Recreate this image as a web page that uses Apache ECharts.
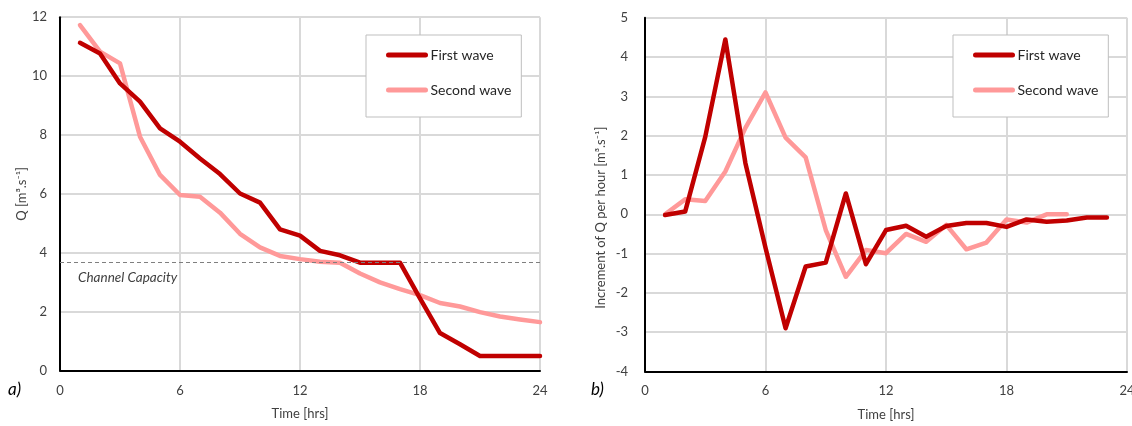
<!DOCTYPE html>
<html>
<head>
<meta charset="utf-8">
<script src="https://cdn.jsdelivr.net/npm/echarts@6/dist/echarts.min.js"></script>
<style>
  html, body { margin: 0; padding: 0; background: #fff; }
  #chart { width: 1132px; height: 426px; }
</style>
</head>
<body>
<div id="chart"></div>
<script>
// hours on the x axis
const hours = [1, 2, 3, 4, 5, 6, 7, 8, 9, 10, 11, 12, 13, 14, 15, 16, 17, 18, 19, 20, 21, 22, 23, 24];
const xTicks = [0, 6, 12, 18, 24];

// a) discharge Q [m3/s]
const qFirst = [11.13, 10.77, 9.75, 9.13, 8.22, 7.77, 7.2, 6.67, 6.01, 5.7, 4.79, 4.58, 4.06, 3.91, 3.66, 3.66, 3.66, 2.45, 1.27, 0.89, 0.49, 0.49, 0.49, 0.49];
const qSecond = [11.73, 10.83, 10.43, 7.94, 6.64, 5.96, 5.9, 5.36, 4.64, 4.18, 3.89, 3.78, 3.69, 3.66, 3.29, 2.99, 2.76, 2.56, 2.29, 2.17, 1.98, 1.83, 1.73, 1.64];
const channelCapacity = 3.66;

// b) increment of Q per hour
const dFirst = [-0.02, 0.07, 1.97, 4.45, 1.3, -0.85, -2.9, -1.33, -1.23, 0.53, -1.27, -0.4, -0.29, -0.57, -0.3, -0.22, -0.22, -0.32, -0.13, -0.19, -0.16, -0.08, -0.08];
const dSecond = [0, 0.38, 0.34, 1.09, 2.2, 3.1, 1.95, 1.45, -0.4, -1.59, -0.91, -0.99, -0.5, -0.7, -0.27, -0.89, -0.72, -0.13, -0.21, 0, 0];

const names = ["First wave", "Second wave"];
const colors = ["#C00000", "#FF9999"];

function pairs(vals) {
  return vals.map(function (v, i) { return [hours[i], v]; });
}

const font = "Lato";
const labelColor = "#404040";
const gridColor = "#d9d9d9";

function xAxisFor(gridIndex, margin) {
  return {
    type: "value",
    gridIndex: gridIndex,
    min: xTicks[0],
    max: xTicks[xTicks.length - 1],
    interval: 6,
    name: "Time [hrs]",
    nameLocation: "middle",
    nameGap: 37,
    nameTextStyle: { color: labelColor, fontFamily: font, fontSize: 13 },
    axisLine: { onZero: false, lineStyle: { color: "#000", width: 2 } },
    axisTick: { show: false },
    axisLabel: { color: labelColor, fontFamily: font, fontSize: 13, margin: margin },
    splitLine: { lineStyle: { color: gridColor, width: 2 } }
  };
}

function legendFor(left) {
  return {
    data: names,
    orient: "vertical",
    left: left,
    top: 35,
    width: 150,
    padding: [13, 10, 20, 20],
    itemGap: 21,
    itemWidth: 37,
    itemHeight: 14,
    itemStyle: { opacity: 0 },
    lineStyle: { width: 5, cap: "round" },
    borderColor: "#bfbfbf",
    borderWidth: 1,
    backgroundColor: "#fff",
    textStyle: { color: "#262626", fontFamily: font, fontSize: 14 }
  };
}

function line(name, color, data, xi, extra) {
  return Object.assign({
    name: name,
    type: "line",
    xAxisIndex: xi,
    yAxisIndex: xi,
    data: data,
    symbol: "none",
    color: color,
    lineStyle: { color: color, width: 4.5, join: "round", cap: "round" },
    z: name === names[0] ? 3 : 2
  }, extra || {});
}

const chart = echarts.init(document.getElementById("chart"));
chart.setOption({
  animation: false,
  textStyle: { fontFamily: font },
  grid: [
    { left: 60, top: 17.2, width: 480, height: 353.2, outerBoundsMode: "none" },
    { left: 645, top: 17.8, width: 482, height: 353.7, outerBoundsMode: "none" }
  ],
  legend: [legendFor(366), legendFor(953)],
  xAxis: [xAxisFor(0, 14), xAxisFor(1, 13)],
  yAxis: [
    {
      type: "value",
      gridIndex: 0,
      min: 0,
      max: 12,
      interval: 2,
      name: "Q [m³.s⁻¹]",
      nameLocation: "middle",
      nameGap: 27,
      nameTextStyle: { color: labelColor, fontFamily: font, fontSize: 13 },
      axisLine: { show: true, lineStyle: { color: "#000", width: 2 } },
      axisTick: { show: false },
      axisLabel: { color: labelColor, fontFamily: font, fontSize: 13, margin: 13 },
      splitLine: { lineStyle: { color: gridColor, width: 2 } }
    },
    {
      type: "value",
      gridIndex: 1,
      min: -4,
      max: 5,
      interval: 1,
      name: "Increment of Q per hour [m³.s⁻¹]",
      nameLocation: "middle",
      nameGap: 38,
      nameTextStyle: { color: labelColor, fontFamily: font, fontSize: 13, padding: [0, 46, 0, 0] },
      axisLine: { show: true, onZero: false, lineStyle: { color: "#000", width: 2 } },
      axisTick: { show: false },
      axisLabel: { color: labelColor, fontFamily: font, fontSize: 13, margin: 17 },
      splitLine: { lineStyle: { color: gridColor, width: 2 } }
    }
  ],
  graphic: [
    { type: "text", left: 8, top: 381, style: { text: "a)", fontFamily: font, fontSize: 17, fontStyle: "italic", fill: "#000" } },
    { type: "text", left: 591, top: 381, style: { text: "b)", fontFamily: font, fontSize: 17, fontStyle: "italic", fill: "#000" } }
  ],
  series: [
    line(names[1], colors[1], pairs(qSecond), 0),
    line(names[0], colors[0], pairs(qFirst), 0, {
      markLine: {
        silent: true,
        symbol: "none",
        lineStyle: { color: "#7f7f7f", type: [4, 3], width: 1.2 },
        label: {
          position: "insideStartBottom",
          distance: [18, 8],
          formatter: "Channel Capacity",
          color: "#404040",
          fontFamily: font,
          fontStyle: "italic",
          fontSize: 13.5
        },
        data: [{ yAxis: channelCapacity }]
      }
    }),
    line(names[1], colors[1], pairs(dSecond), 1),
    line(names[0], colors[0], pairs(dFirst), 1)
  ]
});
</script>
</body>
</html>
